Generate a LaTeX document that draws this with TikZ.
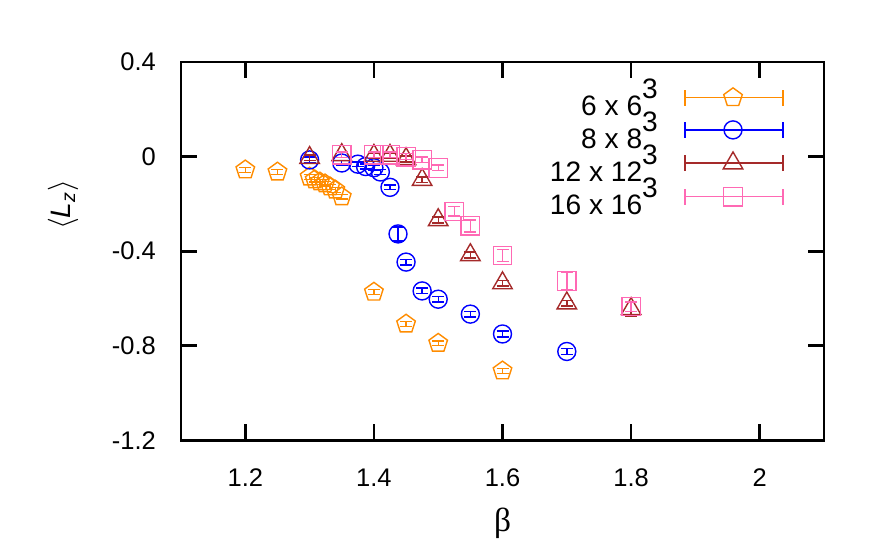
\documentclass[tikz,border=0pt]{standalone}
\usepackage{fontspec}
\setmainfont{Liberation Sans}
\newfontfamily\greekfont{Liberation Serif}
\usetikzlibrary{shapes.geometric}

\definecolor{lzorange}{RGB}{255,140,0}
\definecolor{lzblue}{RGB}{0,0,255}
\definecolor{lzbrown}{RGB}{165,42,42}
\definecolor{lzpink}{RGB}{255,105,180}

% vertical error bar: colour, beta, value, error
\newcommand{\errbar}[4]{%
  \draw[#1,line width=0.8pt] (#2,#3-#4) -- (#2,#3+#4)
    (#2,#3-#4) ++(-0.12cm,0) -- ++(0.24cm,0)
    (#2,#3+#4) ++(-0.12cm,0) -- ++(0.24cm,0);}
% legend entry: colour, marker style, row value, text
\newcommand{\keyrow}[5]{%
  \node[anchor=east,font=\fontsize{16}{18}\selectfont] (#5) at (1.8512,#3) {#4};
  \draw[#1,line width=0.8pt] (1.8838,#3) -- (2.0362,#3)
    (1.8838,#3-0.034) -- (1.8838,#3+0.034)
    (2.0362,#3-0.034) -- (2.0362,#3+0.034);
  \node[#2] (#5m) at (1.9585,#3) {};}

\begin{document}
\begin{tikzpicture}[x=12.86cm,y=4.73cm,
  font=\fontsize{14.5}{17}\selectfont,
  pent/.style={draw=lzorange,regular polygon,regular polygon sides=5,minimum size=0.39cm,inner sep=0pt,line width=0.8pt},
  circ/.style={draw=lzblue,circle,minimum size=0.36cm,inner sep=0pt,line width=0.8pt},
  tri/.style={draw=lzbrown,regular polygon,regular polygon sides=3,minimum size=0.45cm,inner sep=0pt,line width=0.8pt},
  sq/.style={draw=lzpink,rectangle,minimum size=0.37cm,inner sep=0pt,line width=0.8pt}]
\useasboundingbox (0.8185,-1.627) rectangle (2.1871,0.6622);
%
\draw[line width=1.5pt] (1.1,-1.2) rectangle (2.1,0.4);
\foreach \b in {1.2,1.4,1.6,1.8,2} {
  \draw[line width=1.5pt] (\b,-1.2) -- ++(0,0.32cm);
  \draw[line width=1.5pt] (\b,0.4) -- ++(0,-0.32cm);
}
\foreach \l in {0.4,0,-0.4,-0.8,-1.2} {
  \draw[line width=1.5pt] (1.1,\l) -- ++(0.32cm,0);
  \draw[line width=1.5pt] (2.1,\l) -- ++(-0.32cm,0);
}
\foreach \b/\t [count=\i] in {1.2/1.2,1.4/1.4,1.6/1.6,1.8/1.8,2/2}
  \node (xt\i) at (\b,-1.3586) {\t};
\foreach \l/\t [count=\i] in {0.4/0.4,0/0,-0.4/-0.4,-0.8/-0.8,-1.2/-1.2}
  \node[anchor=east] (yt\i) at (1.0705,\l) {\t};
\node (xlab) at (1.6,-1.549) {\fontsize{19}{21}\greekfont β};
\node[rotate=90] (ylab) at (0.9165,-0.204) {\fontsize{16}{18}\selectfont$\langle$\textit{L}\textsubscript{\textit{z}}$\rangle$};
%
% 6 x 6^3
\foreach \b/\l/\e [count=\i] in {1.2/-0.056/0.01,1.25/-0.065/0.01,1.30/-0.086/0.01,
  1.308/-0.098/0.01,1.316/-0.107/0.01,1.324/-0.115/0.01,1.332/-0.128/0.01,
  1.34/-0.141/0.01,1.35/-0.17/0.01,1.4/-0.573/0.01,1.45/-0.708/0.01,
  1.5/-0.789/0.01,1.6/-0.906/0.01} {
  \errbar{lzorange}{\b}{\l}{\e}
  \node[pent] (a\i) at (\b,\l) {};
}
% 8 x 8^3
\foreach \b/\l/\e [count=\i] in {1.3/-0.014/0.012,1.35/-0.027/0.01,1.375/-0.032/0.01,
  1.387/-0.042/0.01,1.4/-0.047/0.01,1.41/-0.065/0.01,1.425/-0.13/0.01,
  1.4375/-0.327/0.03,1.45/-0.446/0.012,1.475/-0.568/0.012,1.5/-0.603/0.012,
  1.55/-0.666/0.012,1.6/-0.75/0.012,1.7/-0.824/0.012} {
  \errbar{lzblue}{\b}{\l}{\e}
  \node[circ] (b\i) at (\b,\l) {};
}
% 12 x 12^3
\foreach \b/\l/\e [count=\i] in {1.3/-0.005/0.012,1.35/0.007/0.012,1.4/0.004/0.012,
  1.425/0.004/0.012,1.45/-0.01/0.012,1.475/-0.098/0.012,1.5/-0.268/0.012,
  1.55/-0.416/0.012,1.6/-0.535/0.012,1.7/-0.62/0.012,1.8/-0.644/0.03} {
  \errbar{lzbrown}{\b}{\l}{\e}
  \node[tri] (c\i) at (\b,\l) {};
}
% 16 x 16^3
\foreach \b/\l/\e [count=\i] in {1.35/0.007/0.012,1.4/0.007/0.012,1.425/0.007/0.012,
  1.45/0.0/0.012,1.475/-0.014/0.012,1.5/-0.048/0.012,1.525/-0.232/0.02,
  1.55/-0.293/0.025,1.6/-0.418/0.025,1.7/-0.526/0.035,1.8/-0.634/0.02} {
  \errbar{lzpink}{\b}{\l}{\e}
  \node[sq] (d\i) at (\b,\l) {};
}
%
\keyrow{lzorange}{pent}{0.2495}{6 x 6\raisebox{0.6em}{3}}{ka}
\keyrow{lzblue}{circ}{0.1129}{8 x 8\raisebox{0.6em}{3}}{kb}
\keyrow{lzbrown}{tri}{-0.0279}{12 x 12\raisebox{0.6em}{3}}{kc}
\keyrow{lzpink}{sq}{-0.1691}{16 x 16\raisebox{0.6em}{3}}{kd}
\end{tikzpicture}
\end{document}
